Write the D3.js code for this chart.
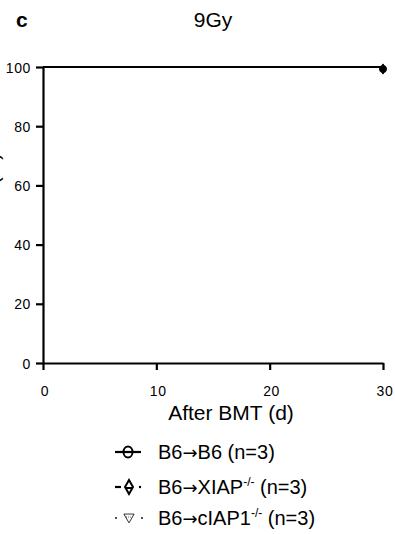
<!DOCTYPE html>
<html>
<head>
<meta charset="utf-8">
<script src="https://cdn.jsdelivr.net/npm/d3@7"></script>
<style>
body { margin: 0; background: #fff; }
svg text { font-family: "Liberation Sans", Arial, sans-serif; fill: #000; }
</style>
</head>
<body>
<div id="chart"></div>
<script>
// data
var days = [0, 30];
var wtSurvival = [100, 100];
var xiapSurvival = [100, 100];
var ciapSurvival = [100, 100];
var xTicks = [0, 10, 20, 30];
var yTicks = [0, 20, 40, 60, 80, 100];
var seriesDonor = ["B6", "B6", "B6"];
var seriesHost = ["B6", "XIAP", "cIAP1"];
var seriesKO = ["", "-/-", "-/-"];
var seriesN = [3, 3, 3];

var W = 395, H = 534;
var svg = d3.select("#chart").append("svg")
    .attr("width", W)
    .attr("height", H);

var xScale = d3.scaleLinear().domain([0, 30]).range([43, 383]);
var yScale = d3.scaleLinear().domain([0, 100]).range([363, 67]);

// panel letter + title
svg.append("text").attr("x", 16).attr("y", 27)
  .style("font-size", "21px").style("font-weight", "bold").text("c");
svg.append("text").attr("x", 213).attr("y", 27).attr("text-anchor", "middle")
  .style("font-size", "21px").text("9Gy");

// axes
var yAxis = svg.append("g")
  .attr("transform", "translate(43,0)")
  .call(d3.axisLeft(yScale).tickValues(yTicks).tickSize(7).tickSizeOuter(0));
var xAxis = svg.append("g")
  .attr("transform", "translate(0,363)")
  .call(d3.axisBottom(xScale).tickValues(xTicks).tickSize(7).tickSizeOuter(0));

[xAxis, yAxis].forEach(function(a){
  a.select(".domain").attr("stroke", "#000").attr("stroke-width", 2.2);
  a.selectAll(".tick line").attr("stroke", "#000").attr("stroke-width", 2.2);
  a.selectAll(".tick text")
    .style("font-size", "14px")
    .style("letter-spacing", "0.6px");
});
yAxis.selectAll(".tick text").attr("x", -12).attr("dy", "0.36em");
xAxis.selectAll(".tick text").attr("y", 23).attr("dy", "0.7em").attr("dx", "0.1em");

svg.append("text").attr("x", 231).attr("y", 420).attr("text-anchor", "middle")
  .style("font-size", "21px").text("After BMT (d)");

// y label (cut off at left edge, as in the source figure)
svg.append("text")
  .attr("transform", "translate(-1,153) rotate(-90)")
  .attr("text-anchor", "end")
  .style("font-size", "20px").text("Percent survival (%)");

// lines
var line = d3.line()
  .x(function(d, i){ return xScale(days[i]); })
  .y(function(d){ return yScale(d); })
  .curve(d3.curveStepAfter);

svg.append("path").datum(ciapSurvival).attr("d", line)
  .attr("fill", "none").attr("stroke", "#000").attr("stroke-width", 1).attr("stroke-dasharray", "1,2");
svg.append("path").datum(xiapSurvival).attr("d", line)
  .attr("fill", "none").attr("stroke", "#000").attr("stroke-width", 2).attr("stroke-dasharray", "4,3");
svg.append("path").datum(wtSurvival).attr("d", line)
  .attr("fill", "none").attr("stroke", "#000").attr("stroke-width", 2.2);

// end markers at last day
var lastX = xScale(days[days.length - 1]);
var lastY = yScale(wtSurvival[wtSurvival.length - 1]) + 2;
svg.append("path").attr("d", d3.symbol().type(d3.symbolDiamond).size(30)())
  .attr("transform", "translate(" + lastX + "," + lastY + ")")
  .attr("fill", "#000").attr("stroke", "#000").attr("stroke-width", 1);
svg.append("circle").attr("cx", lastX).attr("cy", lastY).attr("r", 3.5)
  .attr("fill", "#000").attr("stroke", "#000");

// legend
var legY = [452, 487, 518];
var lg = svg.append("g");
// row 1: solid line with open circle
lg.append("ellipse").attr("cx", 128).attr("cy", legY[0]).attr("rx", 4.5).attr("ry", 5.5)
  .attr("fill", "#fff").attr("stroke", "#000").attr("stroke-width", 2);
lg.append("line").attr("x1", 115).attr("x2", 141).attr("y1", legY[0]).attr("y2", legY[0])
  .attr("stroke", "#000").attr("stroke-width", 2.2);
// row 2: dashed with diamond
lg.append("line").attr("x1", 115).attr("x2", 121).attr("y1", legY[1]).attr("y2", legY[1])
  .attr("stroke", "#000").attr("stroke-width", 2.2);
lg.append("circle").attr("cx", 140).attr("cy", legY[1]).attr("r", 1.2).attr("fill", "#000");
lg.append("path").attr("d", d3.symbol().type(d3.symbolDiamond).size(55)())
  .attr("transform", "translate(129," + legY[1] + ")")
  .attr("fill", "#fff").attr("stroke", "#000").attr("stroke-width", 2);
lg.append("line").attr("x1", 125).attr("x2", 133).attr("y1", legY[1] + 1).attr("y2", legY[1] + 1)
  .attr("stroke", "#000").attr("stroke-width", 2);
// row 3: dotted with open down triangle
[116, 142].forEach(function(cx){
  lg.append("circle").attr("cx", cx).attr("cy", legY[2]).attr("r", 0.9).attr("fill", "#000");
});
lg.append("path").attr("d", d3.symbol().type(d3.symbolTriangle).size(45)())
  .attr("transform", "translate(129," + (legY[2] - 1) + ") rotate(180)")
  .attr("fill", "#fff").attr("stroke", "#000").attr("stroke-width", 0.8);
lg.append("line").attr("x1", 126).attr("x2", 132).attr("y1", legY[2] - 1).attr("y2", legY[2] - 1)
  .attr("stroke", "#000").attr("stroke-width", 0.6).attr("stroke-dasharray", "1,1");

legY.forEach(function(y, i){
  var t = lg.append("text").attr("x", 158).attr("y", y + 7).style("font-size", "20px");
  t.append("tspan").text(seriesDonor[i]);
  t.append("tspan").style("font-family", "'DejaVu Sans', sans-serif")
    .style("font-size", "18px").text("\u2192");
  t.append("tspan").text(seriesHost[i]);
  if (seriesKO[i]) {
    t.append("tspan").attr("dy", -8).style("font-size", "12px").text(seriesKO[i]);
    t.append("tspan").attr("dy", 8).text(" (n=" + seriesN[i] + ")");
  } else {
    t.append("tspan").text(" (n=" + seriesN[i] + ")");
  }
});
</script>
</body>
</html>
